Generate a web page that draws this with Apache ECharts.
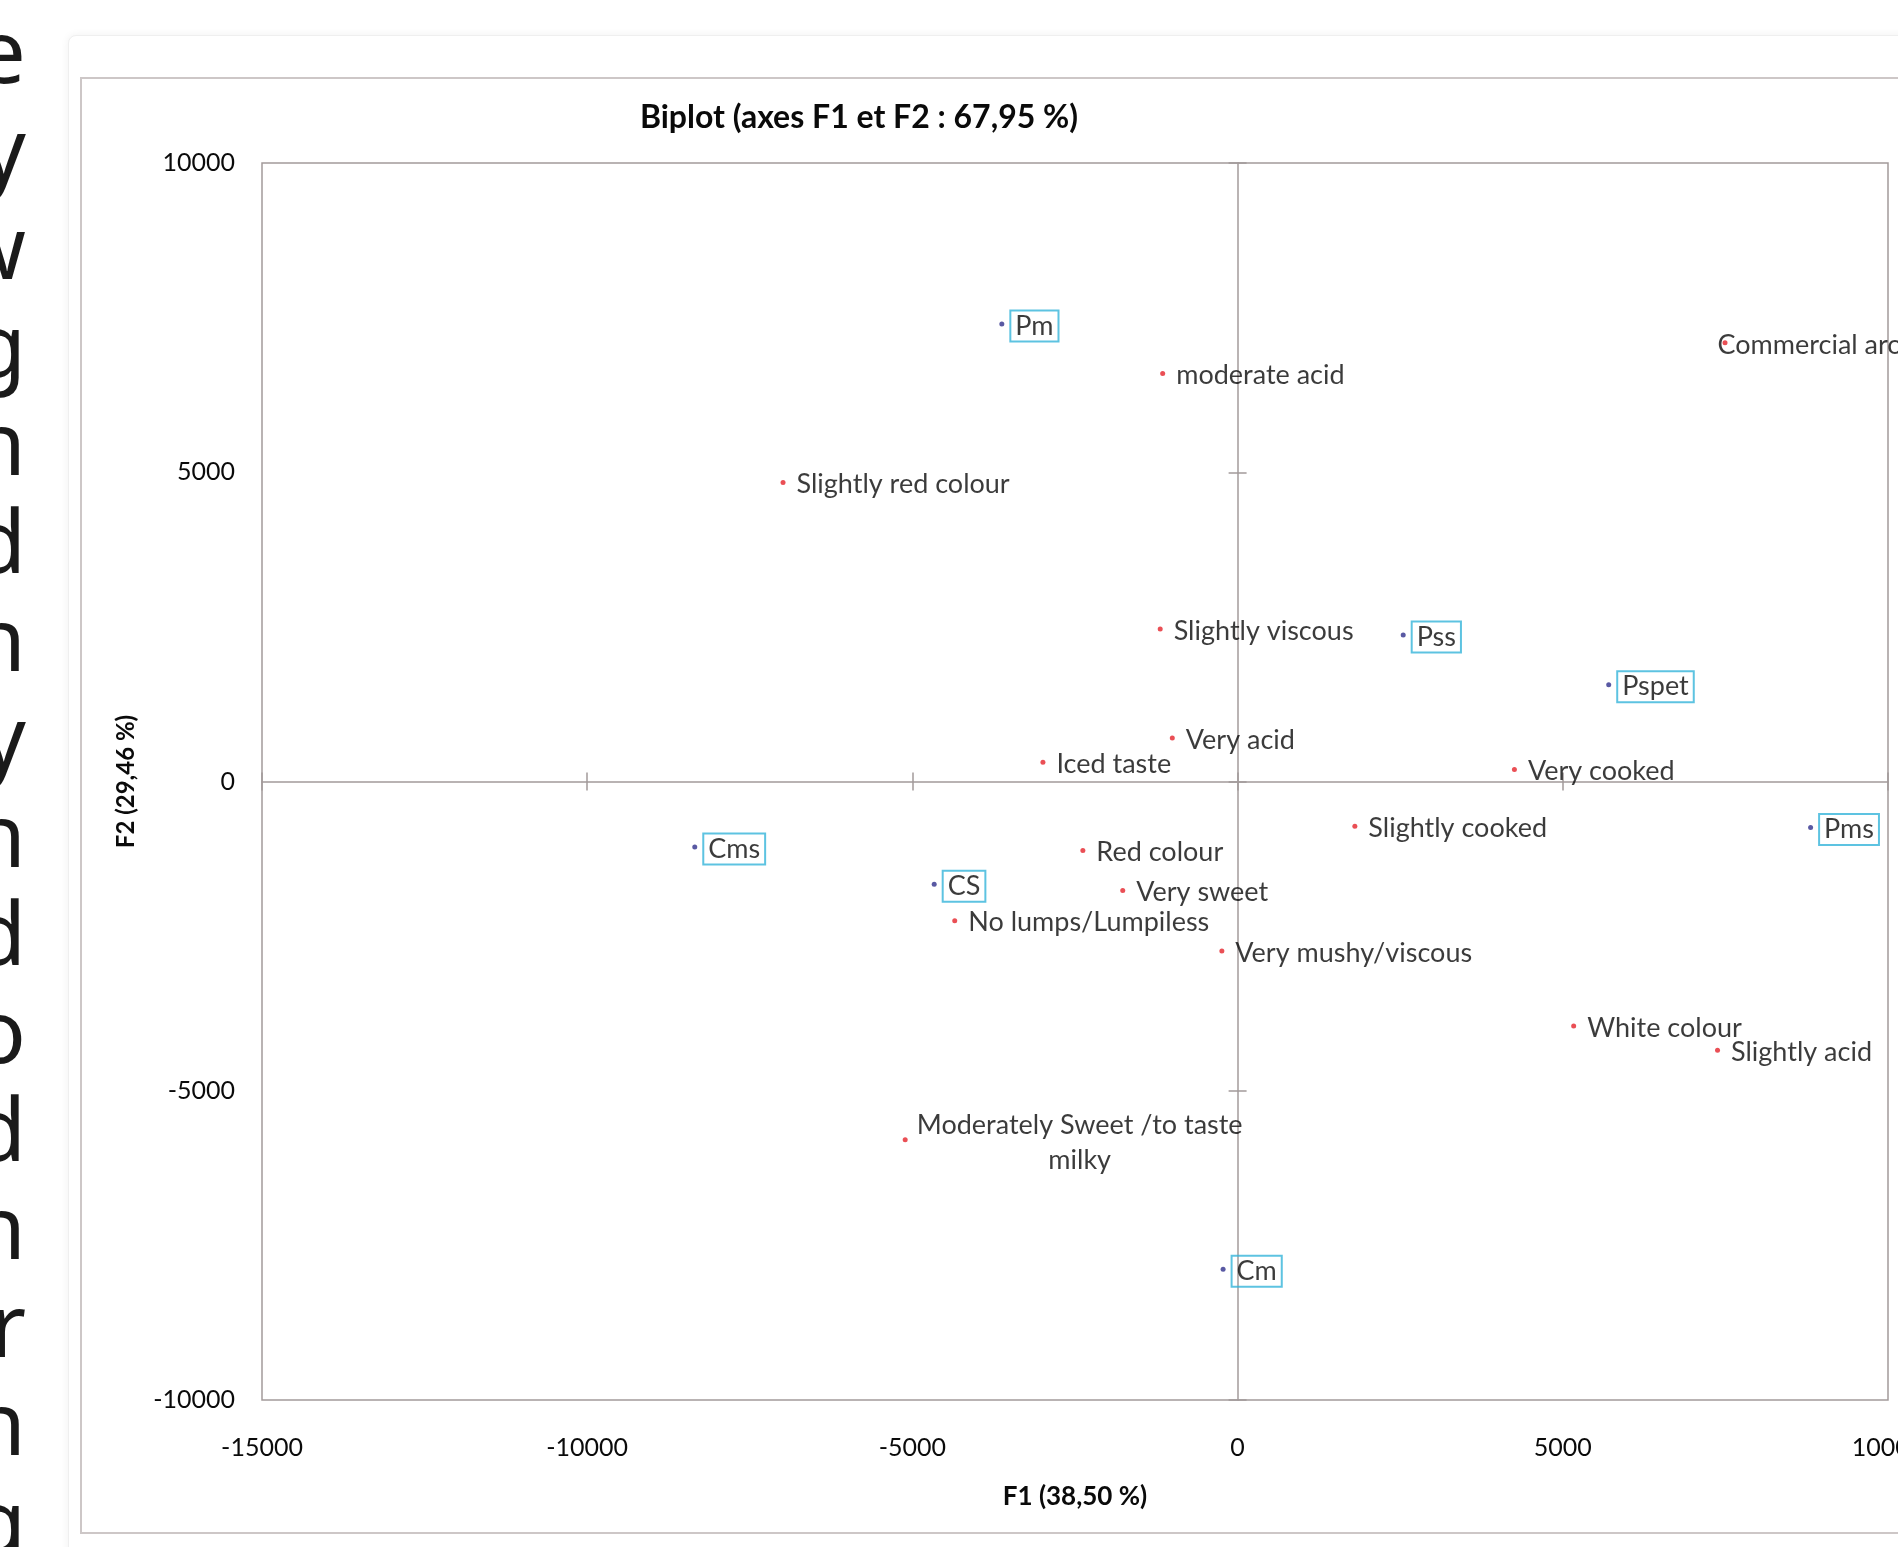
<!DOCTYPE html>
<html>
<head>
<meta charset="utf-8">
<script src="https://cdn.jsdelivr.net/npm/echarts@6/dist/echarts.min.js"></script>
<style>
  html, body { margin: 0; padding: 0; background: #fff; overflow: hidden; }
  #page { position: relative; width: 1898px; height: 1547px; overflow: hidden; }
  .letters {
    position: absolute; left: -200px; top: 0; width: 226px;
    text-align: right; font-family: "Noto Sans", sans-serif; font-size: 88px;
    line-height: 98px; color: #1a1a1a; white-space: pre;
  }
  .card {
    position: absolute; left: 68px; top: 35px; width: 2000px; height: 1600px;
    border: 1px solid #efefef; border-radius: 8px; box-shadow: 0 0 8px rgba(0,0,0,0.06);
    background: #fff;
  }
  .frame {
    position: absolute; left: 80px; top: 77px; width: 2000px; height: 1453px;
    border: 2px solid #cdc7c7;
  }
  #chart { position: absolute; left: 0; top: 0; width: 1898px; height: 1547px; }
</style>
</head>
<body>
<div id="page">
  <div class="letters">e
y
w
g
n
d
n
y
n
d
o
d
n
r
n
g</div>
  <div class="card"></div>
  <div class="frame"></div>
  <div id="chart"></div>
</div>
<script>
// observations (blue, boxed labels)
var obsNames = ['Pm', 'Pss', 'Pspet', 'Pms', 'Cms', 'CS', 'Cm'];
var obsF1 = [-3625, 2546, 5706, 8810, -8346, -4665, -223];
var obsF2 = [7397, 2368, 1566, -744, -1057, -1663, -7887];

// variables (red)
var varNames = ['moderate acid', 'Commercial aroma', 'Slightly red colour', 'Slightly viscous',
  'Very acid', 'Iced taste', 'Very cooked', 'Slightly cooked', 'Red colour', 'Very sweet',
  'No lumps/Lumpiless', 'Very mushy/viscous', 'White colour', 'Slightly acid',
  'Moderately Sweet /to taste\nmilky'];
var varF1 = [-1152, 7494, -6989, -1190, -1004, -2993, 4256, 1803, -2379, -1766, -4349, -242, 5167, 7379, -5111];
var varF2 = [6595, 7093, 4834, 2466, 705, 313, 196, -724, -1115, -1761, -2250, -2740, -3953, -4345, -5793];

// axis ticks
var xTicks = { min: -15000, max: 10000, step: 5000 };
var yTicks = { min: -10000, max: 10000, step: 5000 };

var lineGray = '#a39b9b';
var txt = '#0a0a0a';
var font = 'Lato, "Noto Sans", sans-serif';

// a few labels sit differently in the original
var labelTweaks = {
  'Commercial aroma': { offset: [-21, 2] },
  'Moderately Sweet /to taste\nmilky': { distance: 0, align: 'center', offset: [172, 3], lineHeight: 35 }
};

function plain(v) { return String(v); }

function xAxisCopy(extra) {
  var a = { type: 'value', min: xTicks.min, max: xTicks.max, interval: xTicks.step,
    splitLine: { show: false }, axisLabel: { show: false } };
  for (var k in extra) a[k] = extra[k];
  return a;
}
function yAxisCopy(extra) {
  var a = { type: 'value', min: yTicks.min, max: yTicks.max, interval: yTicks.step,
    splitLine: { show: false }, axisLabel: { show: false } };
  for (var k in extra) a[k] = extra[k];
  return a;
}

var chart = echarts.init(document.getElementById('chart'));
var option = {
  animation: false,
  graphic: [{
    type: 'text', x: 859, y: 118,
    style: { text: 'Biplot (axes F1 et F2 : 67,95 %)', fill: txt, font: 'bold 32px ' + font,
      align: 'center', verticalAlign: 'middle' }
  }],
  grid: { left: 262, top: 163, width: 1626, height: 1237, show: true,
    borderColor: lineGray, borderWidth: 1.5, outerBoundsMode: 'none', containLabel: false },
  xAxis: [
    xAxisCopy({ position: 'bottom', axisLine: { show: false, onZero: false }, axisTick: { show: false },
      axisLabel: { show: true, color: txt, fontSize: 25, fontFamily: font, margin: 35, formatter: plain },
      name: 'F1 (38,50 %)', nameLocation: 'middle', nameGap: 84,
      nameTextStyle: { color: txt, fontSize: 26, fontWeight: 'bold', fontFamily: font } }),
    xAxisCopy({ position: 'bottom', axisLine: { show: true, onZero: true, onZeroAxisIndex: 0, lineStyle: { color: lineGray, width: 1.5 } },
      axisTick: { show: true, length: 9, lineStyle: { color: lineGray, width: 1.5 } } }),
    xAxisCopy({ position: 'top', axisLine: { show: false, onZero: true, onZeroAxisIndex: 0 },
      axisTick: { show: true, length: 9, lineStyle: { color: lineGray, width: 1.5 } } })
  ],
  yAxis: [
    yAxisCopy({ position: 'left', axisLine: { show: false, onZero: false }, axisTick: { show: false },
      axisLabel: { show: true, color: txt, fontSize: 25, fontFamily: font, margin: 27, padding: [6, 0, 0, 0], formatter: plain },
      name: 'F2 (29,46 %)', nameLocation: 'middle', nameGap: 124,
      nameTextStyle: { color: txt, fontSize: 24, fontWeight: 'bold', fontFamily: font } }),
    yAxisCopy({ position: 'left', axisLine: { show: true, onZero: true, onZeroAxisIndex: 0, lineStyle: { color: lineGray, width: 1.5 } },
      axisTick: { show: true, length: 9, lineStyle: { color: lineGray, width: 1.5 } } }),
    yAxisCopy({ position: 'right', axisLine: { show: false, onZero: true, onZeroAxisIndex: 0 },
      axisTick: { show: true, length: 9, lineStyle: { color: lineGray, width: 1.5 } } })
  ],
  series: [
    {
      name: 'Variables', type: 'scatter', xAxisIndex: 0, yAxisIndex: 0,
      symbolSize: 5, itemStyle: { color: '#e5232b' },
      label: { show: true, position: 'right', distance: 11, offset: [0, 2], formatter: '{b}',
        color: txt, fontSize: 27, fontFamily: font },
      emphasis: { disabled: true },
      data: varNames.map(function (n, i) {
        var d = { name: n, value: [varF1[i], varF2[i]] };
        if (labelTweaks[n]) d.label = labelTweaks[n];
        return d;
      })
    },
    {
      name: 'Observations', type: 'scatter', xAxisIndex: 0, yAxisIndex: 0,
      symbolSize: 5, itemStyle: { color: '#2f2f8c' },
      label: { show: true, position: 'right', distance: 6, offset: [0, 2], formatter: '{b}',
        color: txt, fontSize: 27, fontFamily: font,
        borderColor: '#35b4da', borderWidth: 2, padding: [3, 5, 1, 5] },
      emphasis: { disabled: true },
      data: obsNames.map(function (n, i) {
        return { name: n, value: [obsF1[i], obsF2[i]] };
      })
    }
  ]
};
chart.setOption(option);
</script>
</body>
</html>
